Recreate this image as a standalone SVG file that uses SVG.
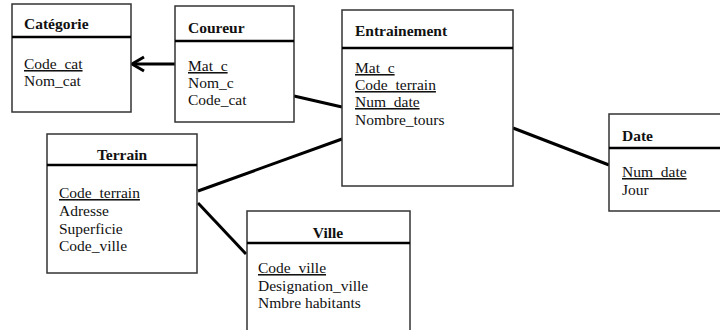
<svg xmlns="http://www.w3.org/2000/svg" width="720" height="330" viewBox="0 0 720 330">
<style>
.box{fill:#fff;stroke:#333;stroke-width:1.5}
.hdr{stroke:#000;stroke-width:2.6}
.t{font-family:"Liberation Serif","Times New Roman",serif;font-size:15.5px;fill:#111}
.b{font-weight:bold}
.u{text-decoration:underline}
.c{stroke:#000;stroke-width:3;fill:none}
</style>
<rect width="720" height="330" fill="#fff"/>
<g id="connectors">
<line class="c" x1="175" y1="64" x2="133" y2="64"/>
<polyline class="c" points="144,57 132,64 144,71"/>
<line class="c" x1="294" y1="96" x2="342" y2="107"/>
<line class="c" x1="198" y1="191" x2="342" y2="139"/>
<line class="c" x1="198" y1="203" x2="246" y2="254"/>
<line class="c" x1="513" y1="128" x2="609" y2="165"/>
</g>
<g id="categorie">
<rect class="box" x="12" y="4" width="119" height="108"/>
<line class="hdr" x1="12" y1="37" x2="131" y2="37"/>
<text class="t b" x="24" y="29">Catégorie</text>
<text class="t u" x="24" y="69">Code_cat</text>
<text class="t" x="24" y="86">Nom_cat</text>
</g>
<g id="coureur">
<rect class="box" x="175" y="6" width="119" height="116"/>
<line class="hdr" x1="175" y1="41" x2="294" y2="41"/>
<text class="t b" x="188" y="33">Coureur</text>
<text class="t u" x="188" y="71">Mat_c</text>
<text class="t" x="188" y="88">Nom_c</text>
<text class="t" x="188" y="105">Code_cat</text>
</g>
<g id="entrainement">
<rect class="box" x="342" y="10" width="171" height="176"/>
<line class="hdr" x1="342" y1="48" x2="513" y2="48"/>
<text class="t b" x="355" y="36">Entrainement</text>
<text class="t u" x="355" y="73">Mat_c</text>
<text class="t u" x="355" y="90">Code_terrain</text>
<text class="t u" x="355" y="107">Num_date</text>
<text class="t" x="355" y="125">Nombre_tours</text>
</g>
<g id="date">
<rect class="box" x="609" y="114" width="120" height="97"/>
<line class="hdr" x1="609" y1="148" x2="720" y2="148"/>
<text class="t b" x="622" y="141">Date</text>
<text class="t u" x="622" y="177">Num_date</text>
<text class="t" x="622" y="195">Jour</text>
</g>
<g id="terrain">
<rect class="box" x="47" y="134" width="150" height="139"/>
<line class="hdr" x1="47" y1="165" x2="197" y2="165"/>
<text class="t b" x="122" y="160" text-anchor="middle">Terrain</text>
<text class="t u" x="59" y="198">Code_terrain</text>
<text class="t" x="59" y="216">Adresse</text>
<text class="t" x="59" y="234">Superficie</text>
<text class="t" x="59" y="251">Code_ville</text>
</g>
<g id="ville">
<rect class="box" x="247" y="211" width="163" height="130"/>
<line class="hdr" x1="247" y1="243" x2="410" y2="243"/>
<text class="t b" x="328" y="238" text-anchor="middle">Ville</text>
<text class="t u" x="258" y="273">Code_ville</text>
<text class="t" x="258" y="291">Designation_ville</text>
<text class="t" x="258" y="308">Nmbre habitants</text>
</g>
</svg>
